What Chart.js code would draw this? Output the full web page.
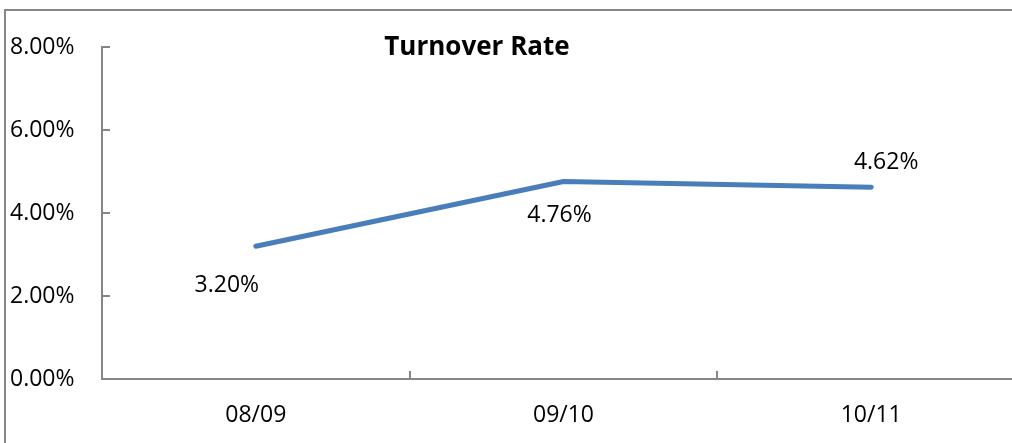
<!DOCTYPE html>
<html>
<head>
<meta charset="utf-8">
<script src="https://cdn.jsdelivr.net/npm/chart.js@4.4.1/dist/chart.umd.min.js"></script>
<style>
	html, body { margin: 0; padding: 0; background: #fff; overflow: hidden; }
	#wrap { position: absolute; left: 0; top: 0; }
</style>
</head>
<body>
<div id="wrap"><canvas id="turnoverChart" width="1040" height="443"></canvas></div>
<script>
const periods = ['08/09', '09/10', '10/11'];
const turnoverRate = [3.20, 4.76, 4.62];
const yTicks = [0, 2, 4, 6, 8];

const fontFamily = "'Open Sans', 'Noto Sans', sans-serif";
const axisColor = '#868686';

// label placement, as Excel put them by hand
const labelOffsets = [[-29, 39], [-4, 34], [15, -25]];

const decorPlugin = {
	id: 'decor',
	beforeDraw(chart) {
		const ctx = chart.ctx;
		ctx.save();
		ctx.strokeStyle = axisColor;
		ctx.lineWidth = 2;
		ctx.beginPath();
		ctx.moveTo(5, chart.height);
		ctx.lineTo(5, 10);
		ctx.lineTo(chart.width, 10);
		ctx.stroke();
		ctx.restore();
	},
	afterDraw(chart) {
		const ctx = chart.ctx;
		const x = chart.scales.x;
		const y = chart.scales.y;
		const area = chart.chartArea;
		ctx.save();
		ctx.strokeStyle = axisColor;
		ctx.lineWidth = 2;
		ctx.beginPath();
		y.ticks.forEach(t => {
			const py = Math.round(y.getPixelForValue(t.value));
			ctx.moveTo(area.left, py);
			ctx.lineTo(area.left + 8, py);
		});
		for (let i = 0; i < periods.length - 1; i++) {
			const px = Math.round((x.getPixelForValue(i) + x.getPixelForValue(i + 1)) / 2);
			ctx.moveTo(px, area.bottom);
			ctx.lineTo(px, area.bottom - 8);
		}
		ctx.stroke();

		// data labels
		ctx.fillStyle = '#000';
		ctx.font = '23px ' + fontFamily;
		ctx.textAlign = 'center';
		ctx.textBaseline = 'middle';
		const meta = chart.getDatasetMeta(0);
		meta.data.forEach((pt, i) => {
			const off = labelOffsets[i];
			ctx.fillText(turnoverRate[i].toFixed(2) + '%', pt.x + off[0], pt.y + off[1]);
		});

		// title
		ctx.font = 'bold 26px ' + fontFamily;
		ctx.textBaseline = 'alphabetic';
		ctx.fillText('Turnover Rate', 477, 55);
		ctx.restore();
	}
};

new Chart(document.getElementById('turnoverChart').getContext('2d'), {
	type: 'line',
	data: {
		labels: periods,
		datasets: [{
			label: 'Turnover Rate',
			data: turnoverRate,
			borderColor: '#4a7ebb',
			borderWidth: 5,
			borderCapStyle: 'round',
			borderJoinStyle: 'round',
			pointRadius: 0,
			pointHoverRadius: 0,
			tension: 0,
			fill: false
		}]
	},
	options: {
		responsive: false,
		animation: false,
		events: [],
		layout: {
			padding: { left: 10, top: 47, right: 15, bottom: 0 }
		},
		plugins: {
			legend: { display: false },
			title: { display: false },
			tooltip: { enabled: false }
		},
		scales: {
			x: {
				offset: true,
				grid: { display: true, drawOnChartArea: false, drawTicks: false, offset: true },
				border: { color: axisColor, width: 2 },
				ticks: {
					color: '#000',
					font: { family: fontFamily, size: 23 },
					padding: 23,
					maxRotation: 0
				},
				afterFit(scale) { scale.height = 64; }
			},
			y: {
				min: 0,
				max: 8,
				afterBuildTicks(scale) {
					scale.ticks = yTicks.map(v => ({ value: v }));
				},
				grid: { display: true, drawOnChartArea: false, drawTicks: false },
				border: { color: axisColor, width: 2 },
				ticks: {
					color: '#000',
					font: { family: fontFamily, size: 23 },
					crossAlign: 'far',
					padding: 0,
					callback: v => v.toFixed(2) + '%'
				},
				afterFit(scale) { scale.width = 92; }
			}
		}
	},
	plugins: [decorPlugin]
});
</script>
</body>
</html>
